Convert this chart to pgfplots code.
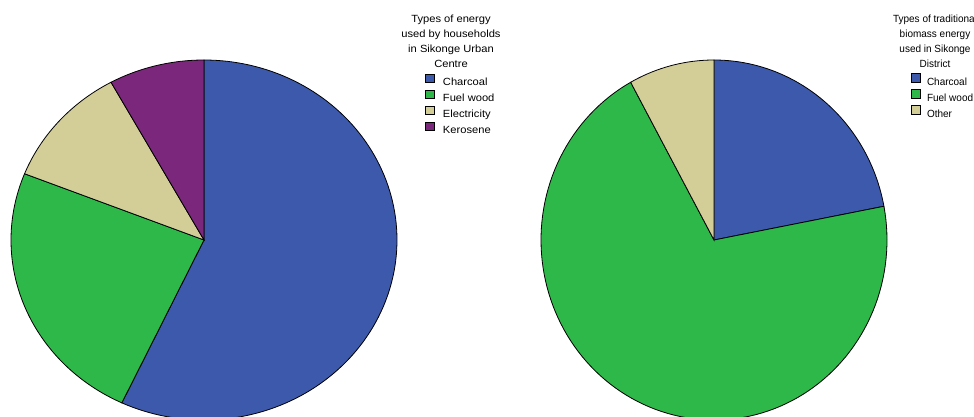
\documentclass[border=0pt]{standalone}
\usepackage{graphicx}
\usepackage{pgfplots}
\pgfplotsset{compat=1.18}
\usepackage{pgfplotstable}
\usepackage{fontspec}
\setmainfont{Liberation Sans}

\definecolor{charcoal}{HTML}{3D59AB}
\definecolor{fuelwood}{HTML}{2EB84A}
\definecolor{electricity}{HTML}{D3CE98}
\definecolor{kerosene}{HTML}{7B287C}

% shares in percent
\pgfplotstableread{
share
57
24
11
8
}\urbandata
\pgfplotstableread{
share
22
70
8
}\districtdata

% horizontal stretch of each panel (the pies are ellipses, the text follows)
\def\lsx{1.072}
\def\rsx{0.961}

% one wedge: row #2 of table #1, filled with colour #3;
% angles run clockwise from twelve o'clock
\newcommand\pieslice[3]{%
  \pgfplotstablegetelem{#2}{share}\of#1%
  \pgfmathsetmacro\sliceend{\slicestart+3.6*\pgfplotsretval}%
  \edef\doslice{\noexpand\addplot[fill=#3, draw=black, line width=0.8pt,
    domain=\slicestart:\sliceend, samples=120]
    ({sin(x)},{cos(x)}) -- (axis cs:0,0) -- cycle;}%
  \doslice
  \global\let\slicestart\sliceend
}

\newcommand\chartfont{\fontsize{10.4}{15}\selectfont}

\pgfplotsset{
  pie/.style={
    scale only axis, hide axis, clip=false,
    xmin=-1, xmax=1, ymin=-1, ymax=1,
    anchor=origin, height=360pt,
    legend image code/.code={\draw[##1] (0pt,0pt) rectangle (9pt,8.5pt);},
    legend cell align=left,
    legend style={draw=none, fill=none, inner sep=0pt, anchor=north west,
      font=\chartfont,
      nodes={inner sep=0pt, text height=8.5pt, text depth=2.5pt},
      /tikz/row sep=1.7pt, /tikz/column sep=8pt},
  },
}

\begin{document}
\begin{tikzpicture}
\useasboundingbox (0,0) rectangle (974pt,416pt);
\clip (0,0) rectangle (974pt,416pt);

\begin{axis}[pie, at={(204pt,176pt)}, width=386pt,
  legend style={at={(axis description cs:1.0725,0.963)}}]
  \gdef\slicestart{0}
  \pieslice{\urbandata}{0}{charcoal}\addlegendentry{\scalebox{\lsx}[1]{Charcoal}}
  \pieslice{\urbandata}{1}{fuelwood}\addlegendentry{\scalebox{\lsx}[1]{Fuel wood}}
  \pieslice{\urbandata}{2}{electricity}\addlegendentry{\scalebox{\lsx}[1]{Electricity}}
  \pieslice{\urbandata}{3}{kerosene}\addlegendentry{\scalebox{\lsx}[1]{Kerosene}}
\end{axis}

\begin{axis}[pie, at={(714pt,176pt)}, width=346pt,
  legend style={at={(axis description cs:1.0694,0.964)}, /tikz/column sep=6pt}]
  \gdef\slicestart{0}
  \pieslice{\districtdata}{0}{charcoal}\addlegendentry{\scalebox{\rsx}[1]{Charcoal}}
  \pieslice{\districtdata}{1}{fuelwood}\addlegendentry{\scalebox{\rsx}[1]{Fuel wood}}
  \pieslice{\districtdata}{2}{electricity}\addlegendentry{\scalebox{\rsx}[1]{Other}}
\end{axis}

\begin{scope}[shift={(451pt,401.5pt)}, xscale=\lsx]
  \node[transform shape, align=center, anchor=north, inner sep=0pt, font=\chartfont]
    at (0,0) {Types of energy\\used by households\\in Sikonge Urban\\Centre};
\end{scope}
\begin{scope}[shift={(935pt,401.5pt)}, xscale=\rsx]
  \node[transform shape, align=center, anchor=north, inner sep=0pt, font=\chartfont]
    at (0,0) {Types of traditional\\biomass energy\\used in Sikonge\\District};
\end{scope}
\end{tikzpicture}
\end{document}
